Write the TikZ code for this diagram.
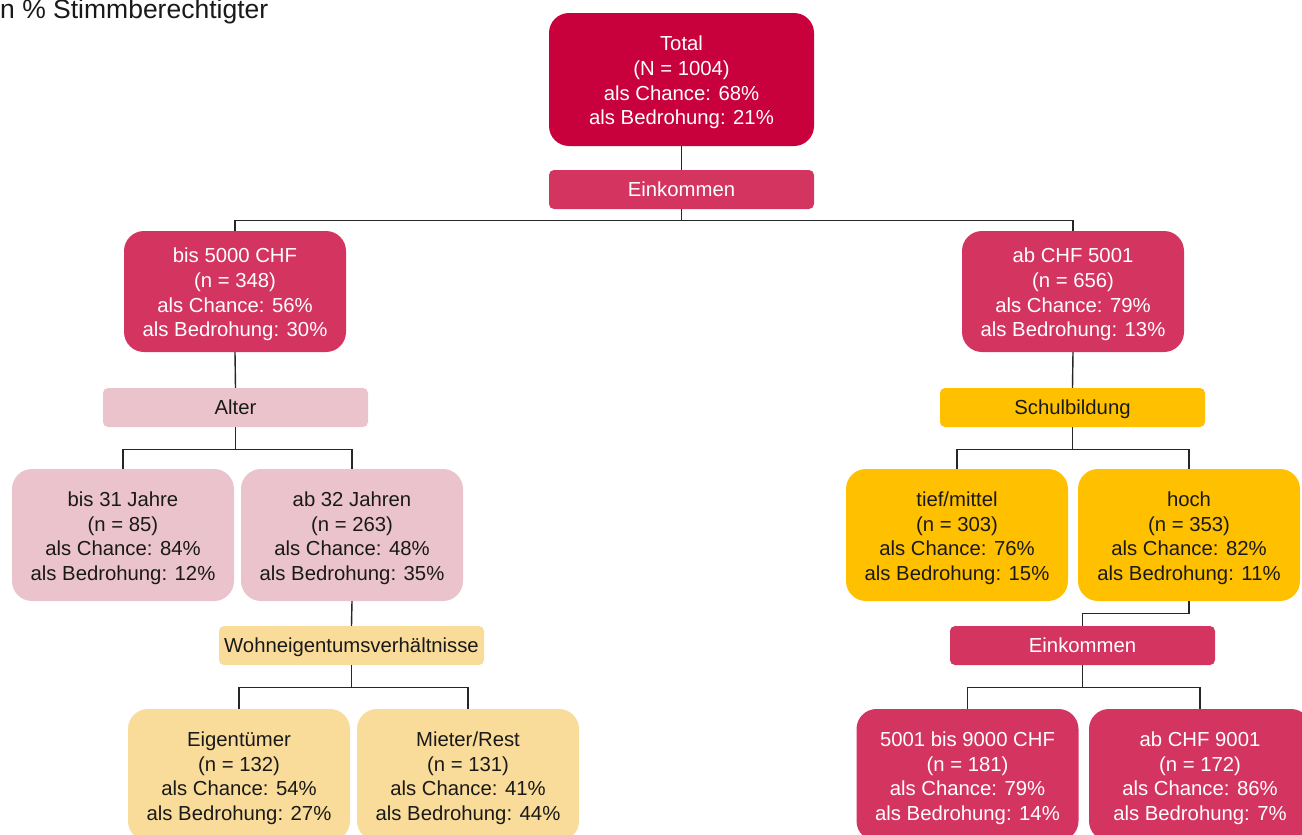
\documentclass[tikz,border=0pt]{standalone}
\usepackage{fontspec}
\setmainfont{Liberation Sans}
\definecolor{cTotal}{HTML}{C8003C}
\definecolor{cMid}{HTML}{D43560}
\definecolor{cPink}{HTML}{EBC3CC}
\definecolor{cAmber}{HTML}{FFC000}
\definecolor{cLight}{HTML}{FADC9A}
\newcommand\fl{\rule{0pt}{21pt}}
\begin{document}
\begin{tikzpicture}[x=1pt,y=-1pt,
  box/.style={rounded corners=20pt, minimum width=222pt, minimum height=132pt, inner sep=0pt, align=center, font=\fontsize{20.3}{24.7}\selectfont},
  bar/.style={rounded corners=5pt, minimum width=265pt, minimum height=39pt, inner sep=0pt, text height=18pt, text depth=3.4pt, font=\fontsize{20.3}{24}\selectfont},
  conn/.style={draw=black!85, line width=1.4pt},
  dark/.style={fill=cTotal, text=white},
  mid/.style={fill=cMid, text=white},
  pink/.style={fill=cPink, text=black!90},
  amber/.style={fill=cAmber, text=black!90},
  light/.style={fill=cLight, text=black!90}]
\useasboundingbox (0,0) rectangle (1302,835);
\clip (0,0) rectangle (1302,835);
\node[anchor=base west, inner sep=0pt, font=\fontsize{26.5}{30}\selectfont, text=black!90] (title) at (0,18.5) {n \% Stimmberechtigter};
% level 0
\node[box, dark, minimum width=265pt, minimum height=133pt] (total) at (681.5,79.5) {\fl Total\\(N = 1004)\\als Chance: 68\%\\als Bedrohung: 21\%};
\node[bar, mid] (ek1) at (681.5,189.5) {Einkommen};
% level 1
\node[box, mid, minimum height=121pt] (n1) at (235,291.5) {\fl bis 5000 CHF\\(n = 348)\\als Chance: 56\%\\als Bedrohung: 30\%};
\node[box, mid, minimum height=121pt] (n2) at (1073,291.5) {\fl ab CHF 5001\\(n = 656)\\als Chance: 79\%\\als Bedrohung: 13\%};
\node[bar, pink] (alter) at (235.5,407.5) {Alter};
\node[bar, amber] (schul) at (1072.5,407.5) {Schulbildung};
% level 2
\node[box, pink] (a1) at (123,535) {\fl bis 31 Jahre\\(n = 85)\\als Chance: 84\%\\als Bedrohung: 12\%};
\node[box, pink] (a2) at (352,535) {\fl ab 32 Jahren\\(n = 263)\\als Chance: 48\%\\als Bedrohung: 35\%};
\node[box, amber] (s1) at (957,535) {\fl tief/mittel\\(n = 303)\\als Chance: 76\%\\als Bedrohung: 15\%};
\node[box, amber] (s2) at (1189,535) {\fl hoch\\(n = 353)\\als Chance: 82\%\\als Bedrohung: 11\%};
\node[bar, light] (wohn) at (351.5,645.5) {Wohneigentumsverhältnisse};
\node[bar, mid] (ek2) at (1082.5,645.5) {Einkommen};
% level 3
\node[box, light] (w1) at (239,775) {\fl Eigentümer\\(n = 132)\\als Chance: 54\%\\als Bedrohung: 27\%};
\node[box, light] (w2) at (468,775) {\fl Mieter/Rest\\(n = 131)\\als Chance: 41\%\\als Bedrohung: 44\%};
\node[box, mid] (e1) at (967.5,775) {\fl 5001 bis 9000 CHF\\(n = 181)\\als Chance: 79\%\\als Bedrohung: 14\%};
\node[box, mid] (e2) at (1200,775) {\fl ab CHF 9001\\(n = 172)\\als Chance: 86\%\\als Bedrohung: 7\%};
% connectors
\draw[conn] (total.south) -- (ek1.north);
\draw[conn] (ek1.south) -- ++(0,11) -| (n1.north);
\draw[conn] (ek1.south) -- ++(0,11) -| (n2.north);
\draw[conn] (n1.south) -- (alter.north);
\draw[conn] (n2.south) -- (schul.north);
\draw[conn] (alter.south) -- ++(0,22) -| (a1.north);
\draw[conn] (alter.south) -- ++(0,22) -| (a2.north);
\draw[conn] (schul.south) -- ++(0,22) -| (s1.north);
\draw[conn] (schul.south) -- ++(0,22) -| (s2.north);
\draw[conn] (a2.south) -- (wohn.north);
\draw[conn] (s2.south) -- ++(0,12) -| (ek2.north);
\draw[conn] (wohn.south) -- ++(0,22) -| (w1.north);
\draw[conn] (wohn.south) -- ++(0,22) -| (w2.north);
\draw[conn] (ek2.south) -- ++(0,22) -| (e1.north);
\draw[conn] (ek2.south) -- ++(0,22) -| (e2.north);
\end{tikzpicture}
\end{document}
